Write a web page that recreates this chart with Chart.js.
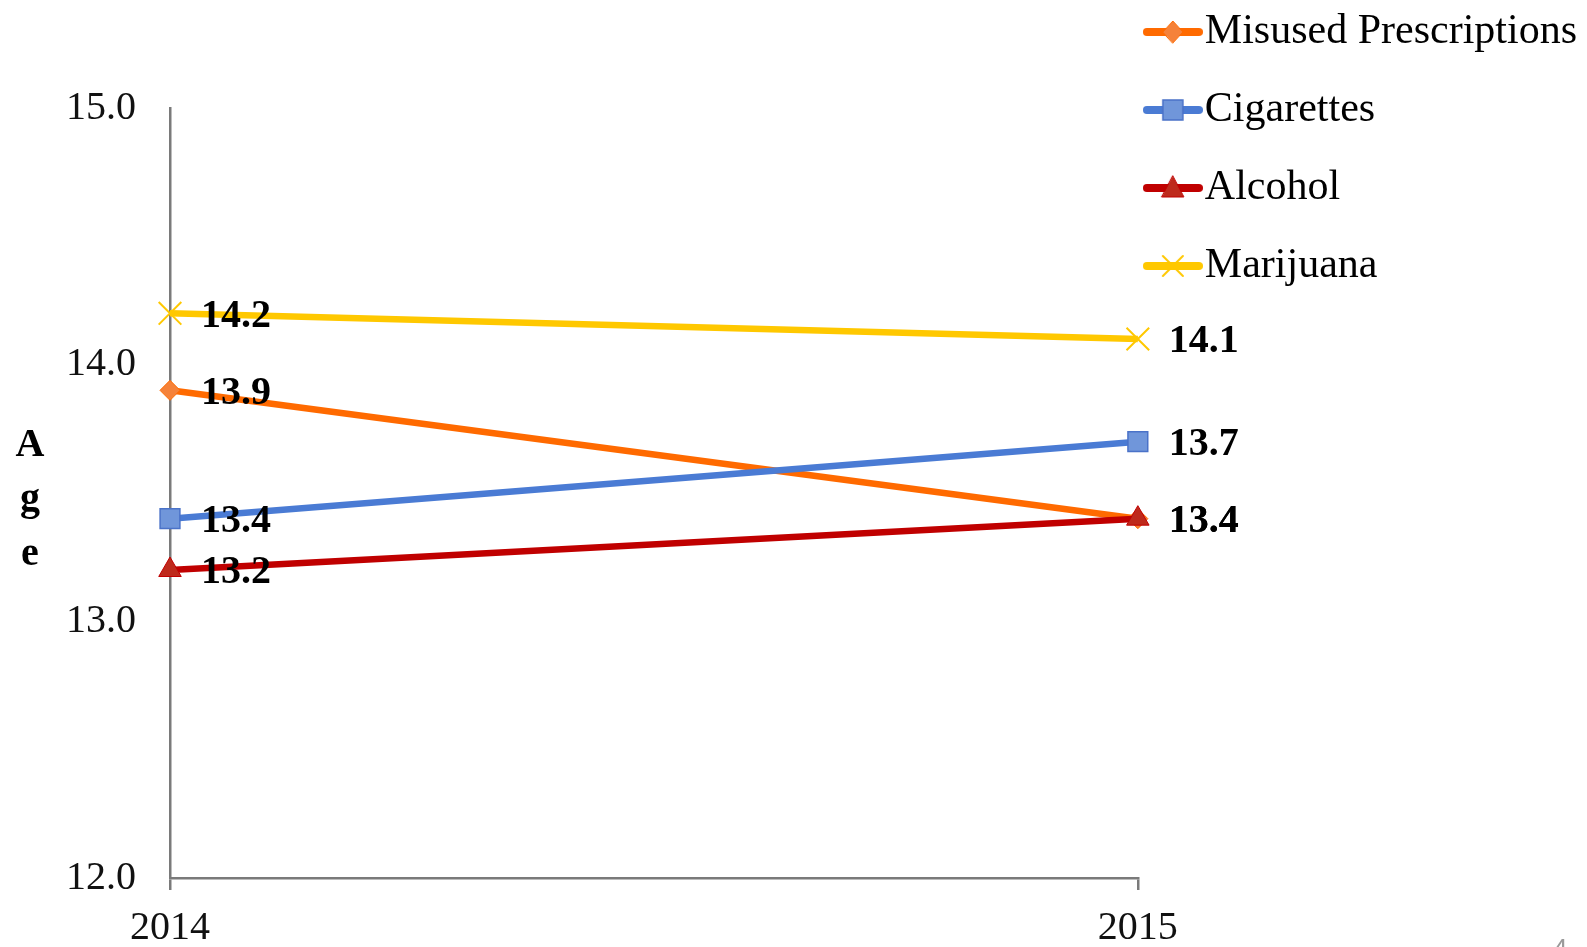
<!DOCTYPE html>
<html><head><meta charset="utf-8">
<script src="https://cdn.jsdelivr.net/npm/chart.js@4.4.1/dist/chart.umd.min.js"></script>
<style>html,body{margin:0;padding:0;background:#fff;overflow:hidden}#wrap{width:1587px;height:947px;position:relative}</style>
</head><body><div id="wrap"><canvas id="c"></canvas></div>
<script>
const categories = ['2014', '2015'];
const seriesNames = ['Misused Prescriptions', 'Cigarettes', 'Alcohol', 'Marijuana'];
const misused = [13.9, 13.4];
const cigarettes = [13.4, 13.7];
const alcohol = [13.2, 13.4];
const marijuana = [14.2, 14.1];
const yMin = 12, yMax = 15, yStep = 1;
const axisTitle = ['A', 'g', 'e'];

const FONT = "'Liberation Serif', 'DejaVu Serif', serif";
const AXIS_GRAY = '#7a7a7a';

const styles = [
  {line: '#FF6A00', fill: '#F5823A', border: '#FF6A00', shape: 'rectRot', r: 10, bw: 1},
  {line: '#4A7BD4', fill: '#7096DA', border: '#4A72C8', shape: 'rect', r: 14, bw: 1.5},
  {line: '#C00000', fill: '#BE2A1C', border: '#C00000', shape: 'triangle', r: 13, bw: 1},
  {line: '#FFC800', fill: '#FFC800', border: '#FFC800', shape: 'crossRot', r: 16, bw: 2}
];
const values = [misused, cigarettes, alcohol, marijuana];

function makeIcon(s) {
  const c = document.createElement('canvas');
  c.width = 60; c.height = 30;
  const g = c.getContext('2d');
  g.strokeStyle = s.line; g.lineWidth = 8; g.lineCap = 'round';
  g.beginPath(); g.moveTo(4, 15); g.lineTo(56, 15); g.stroke();
  const x = 30, y = 15;
  g.fillStyle = s.fill; g.strokeStyle = s.border; g.lineWidth = s.bw;
  g.beginPath();
  if (s.shape === 'rectRot') {
    g.moveTo(x - 10, y); g.lineTo(x, y - 11); g.lineTo(x + 10, y); g.lineTo(x, y + 11); g.closePath();
    g.fill(); g.stroke();
  } else if (s.shape === 'rect') {
    g.rect(x - 10, y - 10, 20, 20); g.fill(); g.stroke();
  } else if (s.shape === 'triangle') {
    g.moveTo(x, y - 12); g.lineTo(x + 11, y + 9); g.lineTo(x - 11, y + 9); g.closePath();
    g.fill(); g.stroke();
  } else {
    g.lineWidth = 2;
    g.moveTo(x - 10, y - 10); g.lineTo(x + 10, y + 10);
    g.moveTo(x + 10, y - 10); g.lineTo(x - 10, y + 10); g.stroke();
  }
  return c;
}
const legendIcons = styles.map(makeIcon);

const datasets = seriesNames.map((name, i) => ({
  label: name,
  data: values[i],
  borderColor: styles[i].line,
  backgroundColor: styles[i].line,
  borderWidth: 6.5,
  tension: 0,
  pointStyle: styles[i].shape,
  pointRadius: styles[i].r,
  pointBackgroundColor: styles[i].fill,
  pointBorderColor: styles[i].border,
  pointBorderWidth: styles[i].bw,
  order: seriesNames.length - i,
  clip: false
}));

const valueLabels = {
  id: 'valueLabels',
  afterDatasetsDraw(chart) {
    const ctx = chart.ctx;
    ctx.save();
    ctx.font = "bold 40px " + FONT;
    ctx.fillStyle = '#000';
    ctx.textAlign = 'left';
    ctx.textBaseline = 'middle';
    chart.data.datasets.forEach((ds, i) => {
      const meta = chart.getDatasetMeta(i);
      meta.data.forEach((pt, j) => {
        ctx.fillText(ds.data[j].toFixed(1), pt.x + 31, pt.y + 3);
      });
    });
    ctx.restore();
  }
};

const stackedTitle = {
  id: 'stackedTitle',
  afterDraw(chart) {
    const ctx = chart.ctx;
    ctx.save();
    ctx.font = "bold 40px " + FONT;
    ctx.fillStyle = '#000';
    ctx.textAlign = 'center';
    ctx.textBaseline = 'alphabetic';
    const baselines = [456, 510, 565];
    axisTitle.forEach((ch, k) => ctx.fillText(ch, 30, baselines[k]));
    ctx.font = "26px 'Liberation Sans', sans-serif";
    ctx.fillStyle = '#9a9a9a';
    ctx.textAlign = 'left';
    ctx.fillText('4', 1553, 957);
    ctx.restore();
  }
};

new Chart(document.getElementById('c'), {
  type: 'line',
  data: {labels: categories, datasets: datasets},
  options: {
    responsive: true,
    maintainAspectRatio: false,
    devicePixelRatio: 1,
    animation: false,
    events: [],
    layout: {padding: {top: -13, left: 32, right: 0, bottom: -19}},
    plugins: {
      tooltip: {enabled: false},
      title: {display: false},
      legend: {
        display: true,
        position: 'right',
        align: 'start',
        maxWidth: 600,
        labels: {
          usePointStyle: true,
          pointStyleWidth: 22,
          padding: 24,
          color: '#000',
          font: {family: FONT, size: 42, lineHeight: 54 / 42},
          generateLabels: (chart) => chart.data.datasets.map((ds, i) => ({
            text: [ds.label],
            fillStyle: ds.borderColor,
            strokeStyle: ds.borderColor,
            lineWidth: 0,
            pointStyle: legendIcons[i],
            hidden: false,
            datasetIndex: i,
            fontColor: '#000'
          }))
        }
      }
    },
    scales: {
      x: {
        type: 'category',
        offset: false,
        grid: {display: true, drawOnChartArea: false, drawTicks: true, tickLength: 12, color: AXIS_GRAY, lineWidth: 2.5},
        border: {display: true, color: AXIS_GRAY, width: 2.5},
        ticks: {color: '#111', font: {family: FONT, size: 40, lineHeight: 1}, padding: 18, maxRotation: 0, autoSkip: false}
      },
      y: {
        min: yMin, max: yMax,
        grid: {display: false, drawTicks: false},
        border: {display: true, color: AXIS_GRAY, width: 2.5},
        ticks: {stepSize: yStep, color: '#111', font: {family: FONT, size: 40}, padding: 34,
          callback: (v) => Number(v).toFixed(1)},
        afterFit: (scale) => { scale.paddingTop = 108; }
      }
    }
  },
  plugins: [valueLabels, stackedTitle]
});
</script>
</body></html>
